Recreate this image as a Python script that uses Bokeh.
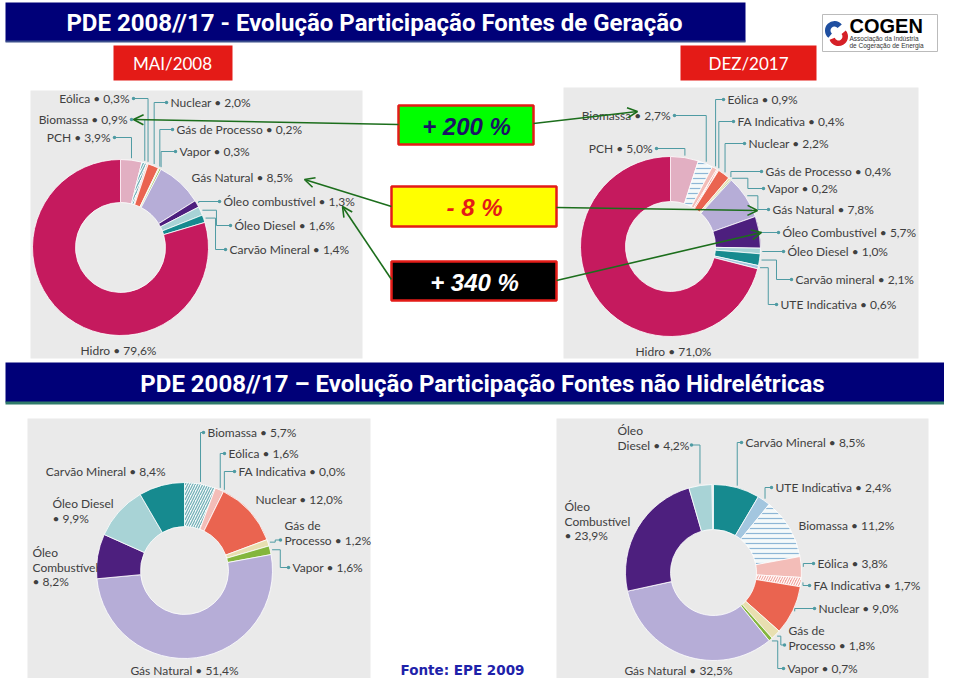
import numpy as np
from bokeh.plotting import figure
from bokeh.models import Range1d, Arrow, OpenHead, ColumnDataSource
from bokeh.core.properties import value
from bokeh.embed import file_html
from bokeh.resources import INLINE

# ---------------- data ----------------
title_top = "PDE 2008//17 - Evolução Participação Fontes de Geração"
title_bottom = "PDE 2008//17 – Evolução Participação Fontes não Hidrelétricas"
period_labels = ["MAI/2008", "DEZ/2017"]
source_note = "Fonte: EPE 2009"
logo_name = "COGEN"
logo_sub = ["Associação da Indústria", "de Cogeração de Energia"]

ger08_names = ["PCH", "Biomassa", "Eólica", "Nuclear", "Gás de Processo", "Vapor",
               "Gás Natural", "Óleo combustível", "Óleo Diesel", "Carvão Mineral", "Hidro"]
ger08_values = [3.9, 0.9, 0.3, 2.0, 0.2, 0.3, 8.5, 1.3, 1.6, 1.4, 79.6]

ger17_names = ["PCH", "Biomassa", "Eólica", "FA Indicativa", "Nuclear", "Gás de Processo",
               "Vapor", "Gás Natural", "Óleo Combustível", "Óleo Diesel", "Carvão mineral",
               "UTE Indicativa", "Hidro"]
ger17_values = [5.0, 2.7, 0.9, 0.4, 2.2, 0.4, 0.2, 7.8, 5.7, 1.0, 2.1, 0.6, 71.0]

nh08_names = ["Biomassa", "Eólica", "FA Indicativa", "Nuclear", "Gás de Processo", "Vapor",
              "Gás Natural", "Óleo Combustível", "Óleo Diesel", "Carvão Mineral"]
nh08_values = [5.7, 1.6, 0.0, 12.0, 1.2, 1.6, 51.4, 8.2, 9.9, 8.4]

nh17_names = ["Carvão Mineral", "UTE Indicativa", "Biomassa", "Eólica", "FA Indicativa",
              "Nuclear", "Gás de Processo", "Vapor", "Gás Natural", "Óleo Combustível",
              "Óleo Diesel"]
nh17_values = [8.5, 2.4, 11.2, 3.8, 1.7, 9.0, 1.8, 0.7, 32.5, 23.9, 4.2]

change_labels = ["+ 200 %", "- 8 %", "+ 340 %"]

# ---------------- styles ----------------
colors = {
    "hidro": "#C51A5E", "pch": "#E2AFC2", "biomassa": "#F4F9FA", "eólica": "#F3BDB8",
    "fa indicativa": "#F2A59E", "nuclear": "#EA6450", "gás de processo": "#E8DFB0",
    "vapor": "#84B63C", "gás natural": "#B6ADD7", "óleo combustível": "#4D1F7E",
    "óleo diesel": "#A8D3D6", "carvão mineral": "#168A8F", "ute indicativa": "#A3C6DF",
}
NAVY = "#000078"
RED = "#E41B17"
GREEN_ARROW = "#1C6E1C"
LEADER = "#4F9BA3"
LABEL_COLOR = "#404040"
PANEL = "#EAEAEA"
LABEL_FONT = "Lato"
TITLE_FONT = "Roboto"

W, H = 944, 678


def X(px):
    return px


def Y(py):
    return H - py


p = figure(width=W, height=H, x_range=Range1d(0, W), y_range=Range1d(0, H),
           output_backend="svg", toolbar_location=None, min_border=0,
           x_axis_location=None, y_axis_location=None)
p.grid.visible = False
p.outline_line_color = None
p.background_fill_color = "white"
p.border_fill_color = "white"


def box(x0, y0, x1, y1, fill, line=None, lw=0):
    p.quad(left=[X(x0)], right=[X(x1)], top=[Y(y0)], bottom=[Y(y1)],
           fill_color=fill, line_color=line, line_width=lw)


def txt(x, y, s, size, color, font=LABEL_FONT, style="normal", align="left", baseline="middle"):
    p.text(x=[X(x)], y=[Y(y)], text=[s], text_font=value(font), text_font_size=f"{size}px",
           text_color=color, text_font_style=style, text_align=align, text_baseline=baseline)


def fmt(v):
    return f"{v:.1f}".replace(".", ",") + "%"


def donut(names, values, cx, cy, r_out, r_in, bio_hatch, layout):
    vals = np.array(values, dtype=float)
    frac = vals / 100.0
    ends = np.cumsum(frac)
    starts = ends - frac
    keep = vals > 0
    fills, hatches, hcols = [], [], []
    for n in names:
        k = n.lower()
        fills.append(colors[k])
        if k == "biomassa":
            hatches.append(bio_hatch)
            hcols.append("#6FAFB5" if bio_hatch == "/" else "#8DB6D6")
        elif k == "fa indicativa":
            hatches.append("/")
            hcols.append("#FFFFFF")
        else:
            hatches.append(" ")
            hcols.append("#FFFFFF")
    src = ColumnDataSource(dict(
        x=[X(cx)] * int(keep.sum()), y=[Y(cy)] * int(keep.sum()),
        sa=(np.pi / 2 - 2 * np.pi * ends)[keep], ea=(np.pi / 2 - 2 * np.pi * starts)[keep],
        fill=[f for f, k in zip(fills, keep) if k],
        hatch=[h for h, k in zip(hatches, keep) if k],
        hcol=[h for h, k in zip(hcols, keep) if k],
    ))
    p.annular_wedge(x="x", y="y", inner_radius=r_in, outer_radius=r_out,
                    start_angle="sa", end_angle="ea", fill_color="fill",
                    line_color="white", line_width=0.8,
                    hatch_pattern="hatch", hatch_color="hcol", hatch_scale=5, hatch_weight=1.2,
                    source=src)
    # labels and leaders
    lxs, lys, dxs, dys = [], [], [], []
    for i, n in enumerate(names):
        if n not in layout:
            continue
        x, y, align, mode, style, dotx = layout[n]
        v = fmt(values[i])
        if style == 0:
            lines = [f"{n} • {v}"]
        elif style == 1:
            lines = [n, f"• {v}"]
        elif style == 2:
            a, b = n.rsplit(" ", 1)
            lines = [a, f"{b} • {v}"]
        else:
            a, b = n.rsplit(" ", 1)
            lines = [a, b, f"• {v}"]
        for j, ln in enumerate(lines):
            txt(x, y + 14.5 * j, ln, 12, LABEL_COLOR, align=align)
        if mode is None:
            continue
        ly = y + 14.5 * (len(lines) - 1)
        if dotx is None:
            dotx = x + 4 if align == "right" else x - 4
        th = 2 * np.pi * (starts[i] + ends[i]) / 2
        tx = cx + (r_out + 2) * np.sin(th)
        ty = cy - (r_out + 2) * np.cos(th)
        if mode == "hv":
            path = [(dotx, ly), (tx, ly), (tx, ty)]
        else:
            mx = (dotx + tx) / 2
            path = [(dotx, ly), (mx, ly), (mx, ty), (tx, ty)]
        lxs.append([X(a) for a, b in path])
        lys.append([Y(b) for a, b in path])
        dxs.append(X(dotx))
        dys.append(Y(ly))
    p.multi_line(xs=lxs, ys=lys, line_color=LEADER, line_width=1)
    p.scatter(x=dxs, y=dys, size=3.5, marker="circle", fill_color=LEADER, line_color=None)


# ---------------- title bars ----------------
box(5, 2, 745, 41, NAVY)
box(5, 40, 745, 42, "#3B4E8C")
txt(374, 22, title_top, 24, "white", font=TITLE_FONT, style="bold", align="center")

box(113, 45, 232, 80, RED)
txt(172, 63, period_labels[0], 17, "white", font="Lato", align="center")
box(680, 45, 816, 80, RED)
txt(748, 63, period_labels[1], 17, "white", font="Lato", align="center")

# logo
box(822, 14, 937, 51, "white", "#BBBBBB", 1)
p.annular_wedge(x=[X(834)], y=[Y(30)], inner_radius=4, outer_radius=9.5,
                start_angle=np.deg2rad(40), end_angle=np.deg2rad(230),
                fill_color="#1F4FA0", line_color=None)
p.annular_wedge(x=[X(838)], y=[Y(36)], inner_radius=4, outer_radius=9.5,
                start_angle=np.deg2rad(200), end_angle=np.deg2rad(400),
                fill_color="#D62027", line_color=None)
txt(849, 25, logo_name, 20, "black", font="Liberation Sans", style="bold")
txt(849, 38, logo_sub[0], 6.5, "#333333", font="Liberation Sans")
txt(849, 45, logo_sub[1], 6.5, "#333333", font="Liberation Sans")

# ---------------- panels ----------------
box(30, 90, 362, 358, PANEL)
box(563, 87, 918, 358, PANEL)
box(27, 418, 370, 690, PANEL)
box(556, 418, 928, 693, PANEL)

L08 = {
    "PCH": (110, 137, "right", "hv", 0, None),
    "Biomassa": (127, 119, "right", "hv", 0, None),
    "Eólica": (129, 98, "right", "hv", 0, None),
    "Nuclear": (170, 102, "left", "hv", 0, None),
    "Gás de Processo": (176, 129, "left", "hv", 0, None),
    "Vapor": (179, 151, "left", "hv", 0, None),
    "Gás Natural": (191, 177, "left", None, 0, None),
    "Óleo combustível": (223, 201, "left", "hv", 0, None),
    "Óleo Diesel": (234, 225, "left", "mid", 0, None),
    "Carvão Mineral": (229, 249, "left", "mid", 0, None),
    "Hidro": (118, 350, "center", None, 0, None),
}
L17 = {
    "PCH": (652, 148, "right", "hv", 0, None),
    "Biomassa": (670, 115, "right", "hv", 0, None),
    "Eólica": (727, 99, "left", "hv", 0, None),
    "FA Indicativa": (737, 121, "left", "hv", 0, None),
    "Nuclear": (748, 143, "left", "hv", 0, None),
    "Gás de Processo": (765, 171, "left", "hv", 0, None),
    "Vapor": (767, 188, "left", "mid", 0, None),
    "Gás Natural": (772, 209, "left", "mid", 0, None),
    "Óleo Combustível": (782, 232, "left", "hv", 0, None),
    "Óleo Diesel": (787, 251, "left", "hv", 0, None),
    "Carvão mineral": (795, 279, "left", "mid", 0, None),
    "UTE Indicativa": (780, 304, "left", "mid", 0, None),
    "Hidro": (673, 351, "center", None, 0, None),
}
N08 = {
    "Biomassa": (207, 432, "left", "hv", 0, None),
    "Eólica": (228, 453, "left", "hv", 0, None),
    "FA Indicativa": (238, 471, "left", "hv", 0, None),
    "Nuclear": (255, 499, "left", None, 0, None),
    "Gás de Processo": (284, 525, "left", "mid", 2, None),
    "Vapor": (292, 567, "left", "mid", 0, None),
    "Gás Natural": (184, 670, "center", None, 0, None),
    "Óleo Combustível": (32, 552, "left", None, 3, None),
    "Óleo Diesel": (52, 503, "left", None, 1, None),
    "Carvão Mineral": (165, 471, "right", None, 0, None),
}
N17 = {
    "Carvão Mineral": (745, 442, "left", "hv", 0, None),
    "UTE Indicativa": (775, 487, "left", "hv", 0, None),
    "Biomassa": (798, 525, "left", None, 0, None),
    "Eólica": (817, 563, "left", "hv", 0, None),
    "FA Indicativa": (813, 585, "left", "hv", 0, None),
    "Nuclear": (818, 608, "left", "hv", 0, None),
    "Gás de Processo": (788, 630, "left", "mid", 2, None),
    "Vapor": (787, 668, "left", "mid", 0, None),
    "Gás Natural": (678, 670, "center", None, 0, None),
    "Óleo Combustível": (564, 506, "left", None, 3, None),
    "Óleo Diesel": (617, 430, "left", "hv", 2, 691),
}

donut(ger08_names, ger08_values, 120, 247, 88, 45, "/", L08)
donut(ger17_names, ger17_values, 670, 246, 90, 45, "-", L17)
donut(nh08_names, nh08_values, 184, 570, 88, 44, "/", N08)
donut(nh17_names, nh17_values, 713, 572, 88, 43, "-", N17)

# ---------------- change boxes ----------------
box(398, 105, 533, 144, "#00FF00", RED, 2.5)
txt(466, 126, change_labels[0], 24, "#1B1464", font="Liberation Sans", style="bold italic", align="center")
box(391, 186, 556, 226, "#FFFF00", RED, 2.5)
txt(474, 207, change_labels[1], 24, RED, font="Liberation Sans", style="bold italic", align="center")
box(391, 261, 556, 300, "black", RED, 2.5)
txt(474, 282, change_labels[2], 24, "white", font="Liberation Sans", style="bold italic", align="center")

arrows = [
    ((398, 124), (133, 119)),
    ((533, 123), (637, 111)),
    ((391, 206), (304, 179)),
    ((556, 207), (757, 210)),
    ((391, 279), (342, 206)),
    ((556, 280), (761, 232)),
]
for (x0, y0), (x1, y1) in arrows:
    p.add_layout(Arrow(end=OpenHead(size=10, line_color=GREEN_ARROW, line_width=1.6),
                       x_start=X(x0), y_start=Y(y0), x_end=X(x1), y_end=Y(y1),
                       line_color=GREEN_ARROW, line_width=1.6))

# ---------------- second title ----------------
box(5, 362, 957, 402, NAVY)
box(5, 401, 957, 404, "#2F7A6A")
txt(482, 383, title_bottom, 24, "white", font=TITLE_FONT, style="bold", align="center")

# source
txt(462, 669, source_note, 13.5, "#1E22AA", font="DejaVu Sans", style="bold", align="center")

open("out.html", "w").write(file_html(p, INLINE))
